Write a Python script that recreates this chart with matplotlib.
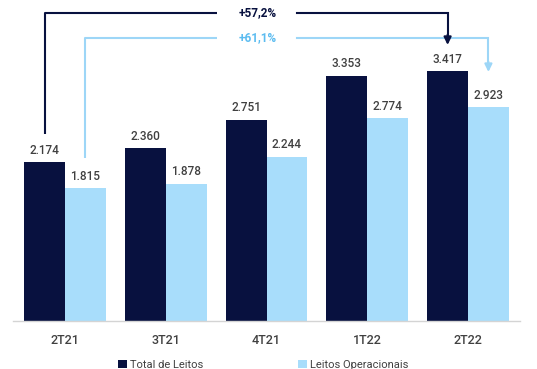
import matplotlib
matplotlib.use("Agg")
import matplotlib.pyplot as plt
import numpy as np

plt.rcParams['font.family'] = ['Roboto', 'DejaVu Sans']

# quarterly bed counts
quarters = ["2T21", "3T21", "4T21", "1T22", "2T22"]
total_leitos = [2174, 2360, 2751, 3353, 3417]
leitos_operacionais = [1815, 1878, 2244, 2774, 2923]
growth_labels = ["+57,2%", "+61,1%"]

dark = "#08113f"
light = "#a8ddfb"
light_line = "#9dd6f7"
light_text = "#5cbcf0"
label_gray = "#404040"

fig = plt.figure(figsize=(5.37, 3.69), dpi=100)
ax = fig.add_axes([13 / 537, 48 / 369, 507 / 537, 321 / 369])

x = np.arange(len(quarters))
w = 0.405
b1 = ax.bar(x - w / 2, total_leitos, w, color=dark, label="Total de Leitos")
b2 = ax.bar(x + w / 2, leitos_operacionais, w, color=light, label="Leitos Operacionais")

def fmt(v):
    return f"{v:,}".replace(",", ".")

for bars, vals in ((b1, total_leitos), (b2, leitos_operacionais)):
    for r, v in zip(bars, vals):
        ax.text(r.get_x() + r.get_width() / 2, v + 75, fmt(v), ha="center", va="bottom",
                fontsize=8.5, color=label_gray, fontweight="medium")

ax.set_xlim(-0.516, 4.516)
ax.set_ylim(0, 4391)
ax.set_yticks([])
ax.set_xticks(x)
ax.set_xticklabels(quarters, fontsize=9, color=label_gray, fontweight="medium")
ax.tick_params(axis="x", length=0, pad=9)
for s in ("top", "right", "left"):
    ax.spines[s].set_visible(False)
ax.spines["bottom"].set_color("#d4d4d4")
ax.spines["bottom"].set_linewidth(1)

# growth brackets from first to last quarter
def bracket(x0, x1, y_start, y_top, y_tip, txt, line_c, text_c, gap=(1.51, 2.30), tx=1.915):
    ax.plot([x0, x0, gap[0]], [y_start, y_top, y_top], color=line_c, lw=1.5,
            solid_capstyle="butt", clip_on=False)
    ax.plot([gap[1], x1, x1], [y_top, y_top, y_tip + 120], color=line_c, lw=1.5,
            solid_joinstyle="miter", clip_on=False)
    ax.annotate("", xy=(x1, y_tip), xytext=(x1, y_tip + 140),
                arrowprops=dict(arrowstyle="-|>,head_length=0.45,head_width=0.22",
                                color=line_c, lw=1.5, shrinkA=0, shrinkB=0),
                annotation_clip=False)
    ax.text(tx, y_top, txt, ha="center", va="center", fontsize=8.5,
            fontweight="bold", color=text_c)

bracket(x[0] - w / 2, x[-1] - w / 2, total_leitos[0] + 380, 4213, 3776,
        growth_labels[0], dark, dark)
bracket(x[0] + w / 2, x[-1] + w / 2, leitos_operacionais[0] + 420, 3871, 3406,
        growth_labels[1], light_line, light_text)

fig.legend(handles=[b1, b2], loc="lower center", bbox_to_anchor=(0.49, -0.03), ncol=2,
           frameon=False, fontsize=8, handlelength=0.8, handleheight=0.8,
           handletextpad=0.3, columnspacing=8.5, labelcolor=label_gray)

fig.savefig("out.png", dpi=100, facecolor="white")
